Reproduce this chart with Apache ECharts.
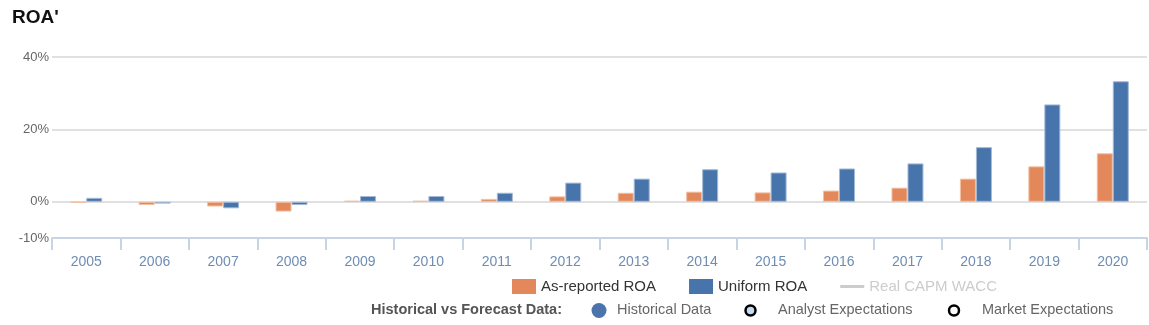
<!DOCTYPE html>
<html>
<head>
<meta charset="utf-8">
<script src="https://cdn.jsdelivr.net/npm/echarts@6/dist/echarts.min.js"></script>
<style>
html,body{margin:0;padding:0;background:#fff;}
#chart{width:1149px;height:325px;}
</style>
</head>
<body>
<div id="chart"></div>
<script>
const years = ['2005','2006','2007','2008','2009','2010','2011','2012','2013','2014','2015','2016','2017','2018','2019','2020'];
const asReportedROA = [-0.2, -0.9, -1.3, -2.7, 0.3, 0.3, 0.8, 1.5, 2.5, 2.8, 2.6, 3.1, 3.9, 6.4, 9.8, 13.4];
const uniformROA = [1.1, -0.5, -1.8, -0.9, 1.6, 1.6, 2.5, 5.3, 6.4, 9.0, 8.1, 9.2, 10.6, 15.1, 26.9, 33.3];
const realCapmWacc = [];
const yTickLabels = [-10, 0, 20, 40];

const FONT = 'Liberation Sans, Arial, sans-serif';
const chart = echarts.init(document.getElementById('chart'), null, {renderer: 'canvas'});

const lineIcon = 'path://M0,0 L0.01,0 L0,0.01 Z M0,6 L24,6 L24,9 L0,9 Z M24,15 L23.99,15 L24,14.99 Z';

const option = {
  animation: false,
  backgroundColor: '#fff',
  textStyle: {fontFamily: FONT},
  title: {
    text: "ROA'",
    left: 7, top: 3,
    textStyle: {fontSize: 19, fontWeight: 'bold', color: '#111', fontFamily: FONT}
  },
  grid: {left: 52, right: 2, top: 57, bottom: 87, containLabel: false},
  legend: {
    left: 512, top: 279, padding: 0,
    itemWidth: 24, itemHeight: 15, itemGap: 33,
    inactiveColor: '#cccccc',
    itemStyle: {borderWidth: 0},
    textStyle: {fontSize: 15, color: '#333', fontFamily: FONT},
    data: [
      {name: 'As-reported ROA', icon: 'rect'},
      {name: 'Uniform ROA', icon: 'rect'},
      {name: 'Real CAPM WACC', icon: lineIcon}
    ],
    selected: {'Real CAPM WACC': false}
  },
  xAxis: {
    type: 'category',
    data: years,
    axisLine: {onZero: false, lineStyle: {color: '#c6d4e4', width: 2}},
    axisTick: {show: true, length: 12, lineStyle: {color: '#c6d4e4', width: 2}},
    axisLabel: {fontSize: 14, color: '#6f8db3', margin: 17, fontFamily: FONT}
  },
  yAxis: {
    type: 'value',
    min: -10, max: 40, interval: 10,
    axisLine: {show: false},
    axisTick: {show: false},
    axisLabel: {
      fontSize: 13, color: '#666', margin: 3, fontFamily: FONT,
      formatter: v => yTickLabels.indexOf(v) >= 0 ? v + '%' : ''
    },
    splitLine: {show: true, lineStyle: {color: ['rgba(0,0,0,0)', '#e0e0e0'], width: 2}}
  },
  series: [
    {
      name: 'As-reported ROA', type: 'bar', data: asReportedROA,
      barWidth: 16, barGap: '0%',
      itemStyle: {color: '#e2885a', borderColor: '#f2c0a2', borderWidth: 1}
    },
    {
      name: 'Uniform ROA', type: 'bar', data: uniformROA,
      barWidth: 16,
      itemStyle: {color: '#4774ab', borderColor: '#a3b9d6', borderWidth: 1}
    },
    {
      name: 'Real CAPM WACC', type: 'line', data: realCapmWacc,
      symbol: 'none', showSymbol: false, lineStyle: {color: '#aaaaaa', width: 3}, itemStyle: {color: '#aaaaaa'}
    }
  ],
  graphic: [
    {type: 'text', left: 371, top: 302, style: {text: 'Historical vs Forecast Data:', font: 'bold 14.5px ' + FONT, fill: '#555'}},
    {type: 'circle', shape: {cx: 599, cy: 310.5, r: 7.5}, style: {fill: '#4a74ab'}},
    {type: 'text', left: 617, top: 302, style: {text: 'Historical Data', font: '14.5px ' + FONT, fill: '#666'}},
    {type: 'circle', shape: {cx: 750.5, cy: 310.5, r: 5}, style: {fill: '#c2daf2', stroke: '#000', lineWidth: 2.5}},
    {type: 'text', left: 778, top: 302, style: {text: 'Analyst Expectations', font: '14.5px ' + FONT, fill: '#666'}},
    {type: 'circle', shape: {cx: 954, cy: 310.5, r: 5}, style: {fill: '#fff', stroke: '#000', lineWidth: 2.5}},
    {type: 'text', left: 982, top: 302, style: {text: 'Market Expectations', font: '14.5px ' + FONT, fill: '#666'}}
  ]
};
chart.setOption(option);
</script>
</body>
</html>
